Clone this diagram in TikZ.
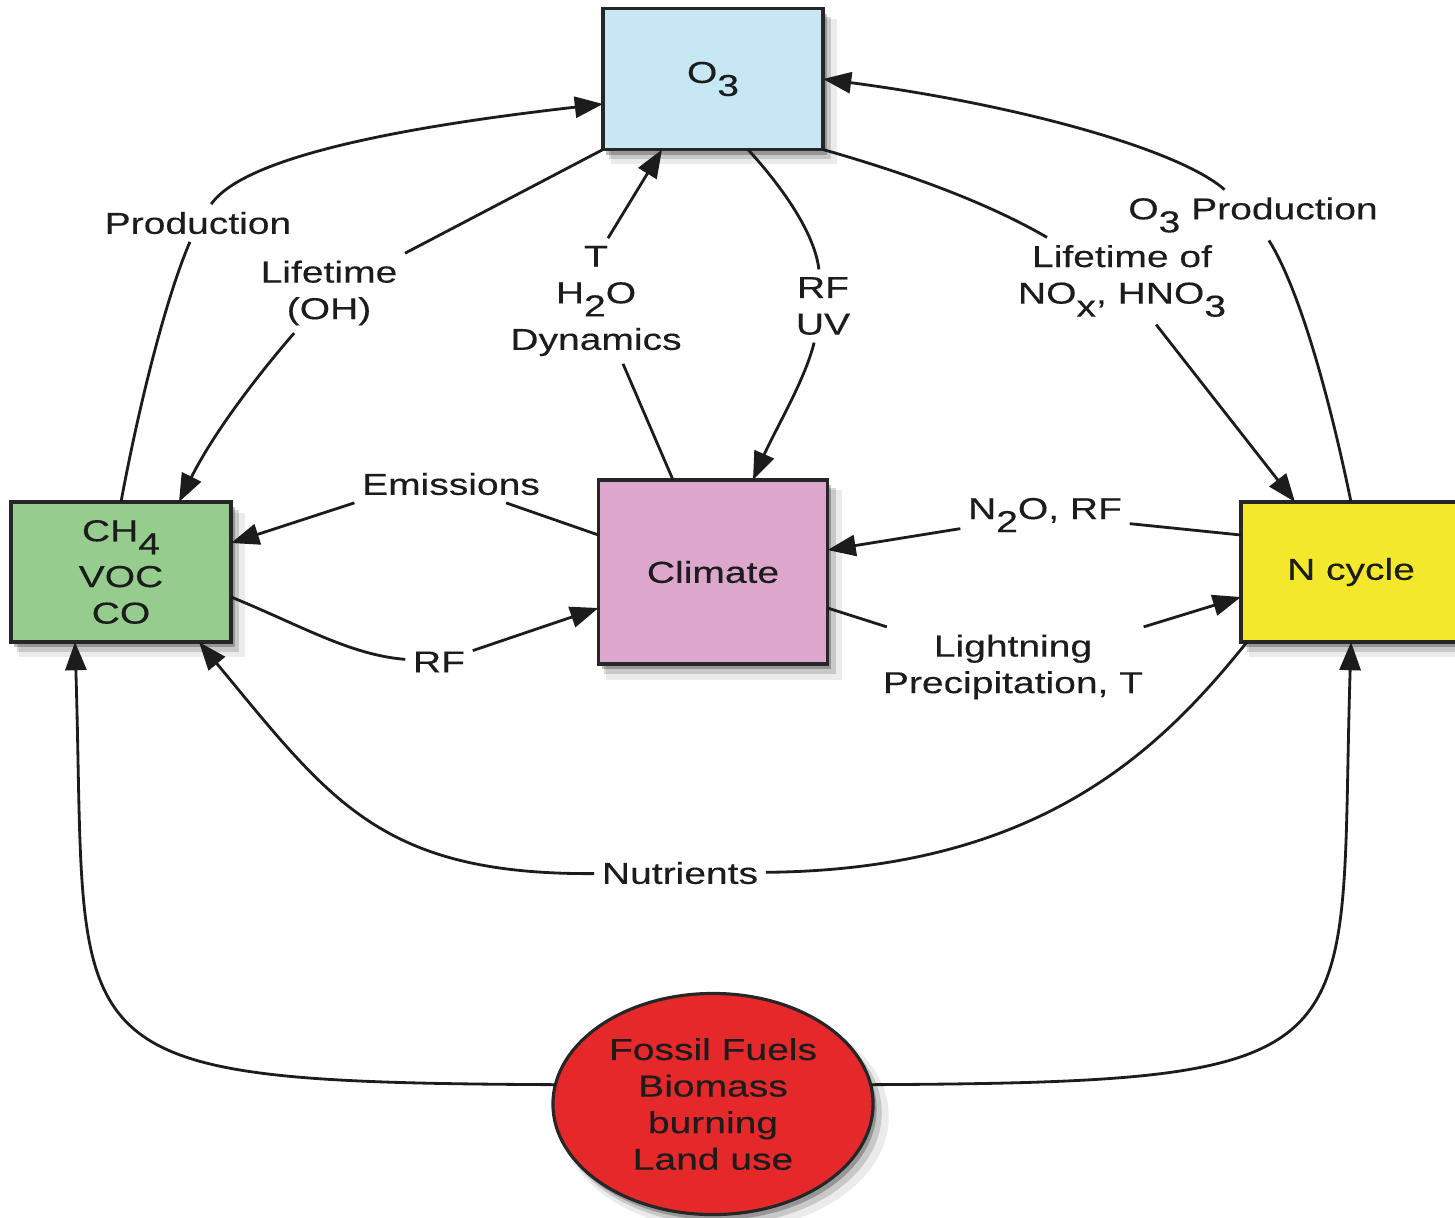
\documentclass[tikz,border=0pt]{standalone}
\usepackage{fontspec}
\setmainfont{Liberation Sans}[FakeStretch=1.29,FakeBold=0.3]
\usepackage{tikz}
\usepackage{xcolor}
\usetikzlibrary{positioning,arrows.meta,shapes.geometric,calc,shadows}
\definecolor{ozone}{HTML}{C6E7F3}
\definecolor{methane}{HTML}{96CD8F}
\definecolor{climpink}{HTML}{DDA6CC}
\definecolor{nyellow}{HTML}{F3E82B}
\definecolor{fossil}{HTML}{E5292B}
\definecolor{edge}{HTML}{262626}
\definecolor{ink}{HTML}{1C1C1C}
\setlength{\lineskiplimit}{1pt}
\setlength{\lineskip}{3.3pt}
\newcommand{\dn}[1]{\raisebox{-3.7pt}{#1}}

\begin{document}
\begin{tikzpicture}[x=0.01cm,y=-0.01cm,every node/.style={font=\fontsize{8.6}{10.4}\selectfont,text=ink}]
   \tikzstyle{box}=[draw=edge,line width=0.9pt,align=center,inner sep=0pt,outer sep=0pt,
      drop shadow={shadow xshift=1pt,shadow yshift=-1.5pt,opacity=.25,fill=black},
      drop shadow={shadow xshift=2pt,shadow yshift=-2.5pt,shadow scale=1.01,opacity=.15,fill=black},
      drop shadow={shadow xshift=3pt,shadow yshift=-3.5pt,shadow scale=1.03,opacity=.08,fill=black}];
   \tikzstyle{lbl}=[align=center,inner sep=2pt];
   \tikzstyle{ln}=[draw=ink,line width=0.8pt];
   \tikzstyle{la}=[draw=ink,line width=0.8pt,-{Triangle[length=8pt,width=6pt]}];
   \useasboundingbox (0,0) rectangle (1455,1217);
   \node[box,fill=ozone,minimum width=2.2cm,minimum height=1.41cm]   (o3)   at (713,79)   {O\dn{3}};
   \node[box,fill=methane,minimum width=2.2cm,minimum height=1.4cm]  (ch4)  at (121,572)  {CH\dn{4}\\VOC\\CO};
   \node[box,fill=climpink,minimum width=2.29cm,minimum height=1.84cm] (clim) at (713,572) {Climate};
   \node[box,fill=nyellow,minimum width=2.2cm,minimum height=1.4cm]  (ncyc) at (1351,572) {N cycle};
   \node[box,ellipse,fill=fossil,minimum width=3.2cm,minimum height=2.21cm] (ff) at (713,1104)
      {Fossil Fuels\\Biomass\\burning\\Land use};
   \node[lbl] (prod)    at (198,223)  {Production};
   \node[lbl] (lifeoh)  at (329,293)  {Lifetime\\(OH)};
   \node[lbl] (dyn)     at (596,301)  {T\\H\dn{2}O\\Dynamics};
   \node[lbl] (rfuv)    at (823,306)  {RF\\UV};
   \node[lbl] (o3prod)  at (1253,215) {O\dn{3} Production};
   \node[lbl] (lifenox) at (1122,281) {Lifetime of\\NO\dn{x}, HNO\dn{3}};
   \node[lbl] (emis)    at (451,484)  {Emissions};
   \node[lbl] (n2o)     at (1045,515) {N\dn{2}O, RF};
   \node[lbl] (rf)      at (439,662)  {RF};
   \node[lbl] (light)   at (1013,667) {Lightning\\Precipitation, T};
   \node[lbl] (nutr)    at (680,873)  {Nutrients};
   \draw[ln] (ch4.north) .. controls (138,410) and (165,300) .. (prod);
   \draw[la] (prod) .. controls (235,170) and (330,135) .. ($(o3.west)+(0,25)$);
   \draw[ln] (o3.south west) -- (lifeoh);
   \draw[la] (lifeoh) .. controls (262,370) and (215,430) .. ($(ch4.north)+(58,0)$);
   \draw[ln] ($(clim.north)+(-40,0)$) -- (dyn);
   \draw[la] ($(dyn.north)+(12,0)$) -- ($(o3.south)+(-51,0)$);
   \draw[ln] ($(o3.south)+(35,0)$) .. controls (785,190) and (815,235) .. (rfuv);
   \draw[la] (rfuv) .. controls (805,380) and (775,430) .. ($(clim.north)+(40,0)$);
   \draw[ln] (ncyc.north) .. controls (1330,400) and (1300,290) .. (o3prod);
   \draw[la] (o3prod) .. controls (1180,150) and (1020,105) .. (o3.east);
   \draw[ln] (o3.south east) .. controls (930,180) and (1000,210) .. (lifenox);
   \draw[la] (lifenox) -- ($(ncyc.north)+(-56,0)$);
   \draw[ln] ($(clim.west)+(0,-37)$) -- ($(emis.south)+(55,0)$);
   \draw[la] (emis.south west) -- ($(ch4.east)+(0,-29)$);
   \draw[ln] ($(ch4.east)+(0,25)$) .. controls (300,625) and (350,655) .. (rf);
   \draw[la] (rf) -- ($(clim.west)+(0,36)$);
   \draw[ln] ($(ncyc.west)+(0,-37)$) -- (n2o);
   \draw[la] (n2o) -- ($(clim.east)+(0,-22)$);
   \draw[ln] ($(clim.east)+(0,36)$) -- (light);
   \draw[la] (light) -- ($(ncyc.west)+(0,25)$);
   \draw[ln] ($(ncyc.south west)+(6,0)$) .. controls (1160,750) and (1040,870) .. (nutr);
   \draw[la] (nutr) .. controls (380,875) and (330,800) .. ($(ch4.south)+(78,0)$);
   \draw[la] (ff.173) .. controls (40,1082) and (88,1060) .. ($(ch4.south)+(-46,0)$);
   \draw[la] (ff.7) .. controls (1386,1082) and (1338,1060) .. (ncyc.south);
\end{tikzpicture}
\end{document}
